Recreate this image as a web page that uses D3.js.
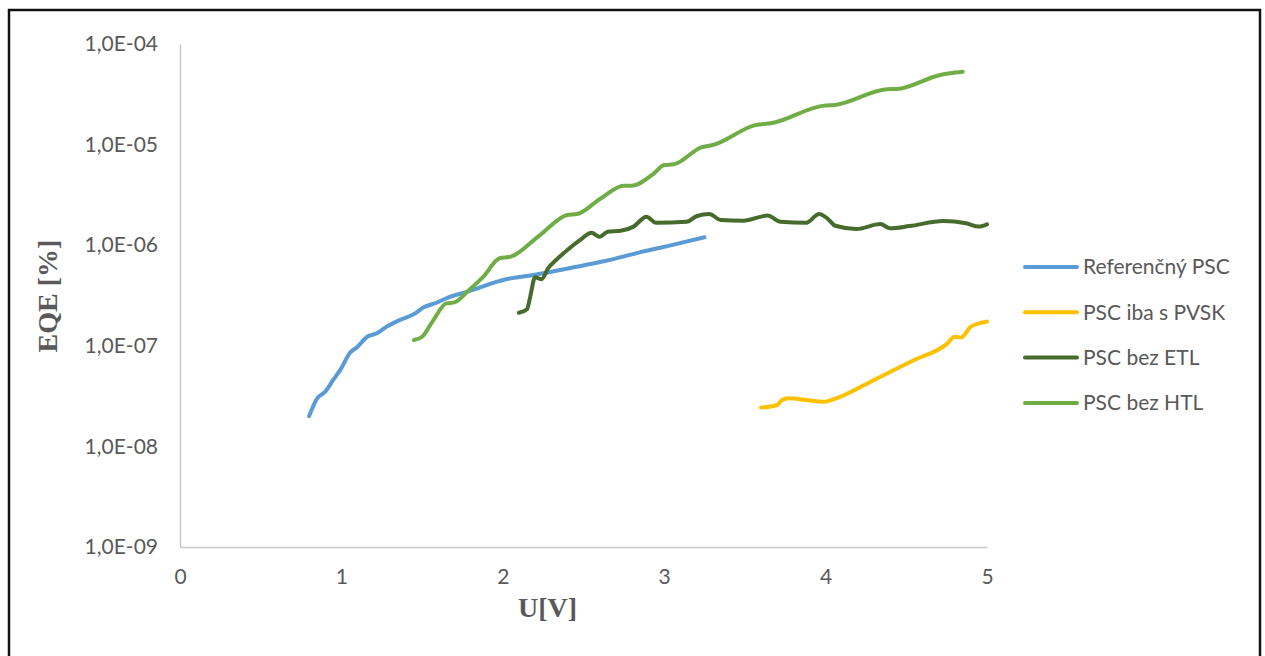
<!DOCTYPE html>
<html>
<head>
<meta charset="utf-8">
<script src="https://cdn.jsdelivr.net/npm/d3@7"></script>
<style>
  html, body { margin: 0; padding: 0; background: #ffffff; }
  svg { display: block; }
</style>
</head>
<body>
<svg id="chart" width="1265" height="656"></svg>
<script>
// Series names
const seriesNames = ["Referenčný PSC", "PSC iba s PVSK", "PSC bez ETL", "PSC bez HTL"];

// Referenčný PSC
const refU   = [0.80, 0.85, 0.90, 0.95, 1.00, 1.05, 1.10, 1.16, 1.22, 1.28, 1.36, 1.45, 1.51, 1.59, 1.65, 1.78, 2.02, 2.19, 2.44, 2.64, 2.89, 3.02, 3.25];
const refEQE = [2.0e-8, 3.0e-8, 3.5e-8, 4.6e-8, 6.0e-8, 8.4e-8, 9.8e-8, 1.23e-7, 1.33e-7, 1.55e-7, 1.80e-7, 2.07e-7, 2.41e-7, 2.68e-7, 2.97e-7, 3.45e-7, 4.58e-7, 5.06e-7, 6.03e-7, 7.0e-7, 8.8e-7, 9.8e-7, 1.2e-6];

// PSC iba s PVSK
const pvskU   = [3.60, 3.70, 3.73, 3.77, 3.88, 3.99, 4.05, 4.30, 4.54, 4.75, 4.80, 4.84, 4.90, 5.00];
const pvskEQE = [2.43e-8, 2.58e-8, 2.89e-8, 3.01e-8, 2.89e-8, 2.78e-8, 2.94e-8, 4.57e-8, 7.11e-8, 1.04e-7, 1.23e-7, 1.21e-7, 1.55e-7, 1.74e-7];

// PSC bez ETL
const etlU   = [2.10, 2.15, 2.17, 2.20, 2.24, 2.28, 2.33, 2.40, 2.48, 2.55, 2.60, 2.65, 2.73, 2.81, 2.89, 2.95, 3.14, 3.20, 3.28, 3.35, 3.49, 3.64, 3.72, 3.88, 3.96, 4.01, 4.06, 4.19, 4.34, 4.40, 4.52, 4.73, 4.87, 4.95, 5.00];
const etlEQE = [2.13e-7, 2.31e-7, 3.08e-7, 4.80e-7, 4.58e-7, 5.89e-7, 7.13e-7, 8.96e-7, 1.13e-6, 1.33e-6, 1.21e-6, 1.36e-6, 1.39e-6, 1.53e-6, 1.92e-6, 1.67e-6, 1.71e-6, 1.94e-6, 2.04e-6, 1.78e-6, 1.75e-6, 1.97e-6, 1.71e-6, 1.67e-6, 2.04e-6, 1.85e-6, 1.56e-6, 1.45e-6, 1.62e-6, 1.47e-6, 1.55e-6, 1.74e-6, 1.65e-6, 1.53e-6, 1.61e-6];

// PSC bez HTL
const htlU   = [1.45, 1.50, 1.57, 1.65, 1.70, 1.78, 1.88, 1.98, 2.05, 2.23, 2.40, 2.46, 2.60, 2.75, 2.80, 2.93, 3.00, 3.06, 3.23, 3.30, 3.57, 3.66, 3.99, 4.06, 4.38, 4.44, 4.71, 4.77, 4.85];
const htlEQE = [1.14e-7, 1.23e-7, 1.80e-7, 2.64e-7, 2.70e-7, 3.45e-7, 4.86e-7, 7.41e-7, 7.69e-7, 1.26e-6, 2.0e-6, 2.04e-6, 2.86e-6, 3.90e-6, 3.90e-6, 5.07e-6, 6.27e-6, 6.37e-6, 9.4e-6, 9.9e-6, 1.57e-5, 1.63e-5, 2.44e-5, 2.48e-5, 3.55e-5, 3.57e-5, 4.92e-5, 5.12e-5, 5.31e-5];

// Axis ticks and labels
const xTicks = [0, 1, 2, 3, 4, 5];
const yTicks = [1e-9, 1e-8, 1e-7, 1e-6, 1e-5, 1e-4];
const yTickLabels = ["1,0E-09", "1,0E-08", "1,0E-07", "1,0E-06", "1,0E-05", "1,0E-04"];
const xTitle = "U[V]";
const yTitle = "EQE [%]";

const colors = ["#5b9bd5", "#ffc000", "#466b2c", "#70ad47"];

const series = [
  { name: seriesNames[0], u: refU,  v: refEQE,  color: colors[0] },
  { name: seriesNames[1], u: pvskU, v: pvskEQE, color: colors[1] },
  { name: seriesNames[2], u: etlU,  v: etlEQE,  color: colors[2] },
  { name: seriesNames[3], u: htlU,  v: htlEQE,  color: colors[3] }
];

const svg = d3.select("#chart");
const tickFont = "Lato, 'Open Sans', sans-serif";
const titleFont = "'Liberation Serif', 'Times New Roman', serif";
const textColor = "#595959";

// Outer frame
svg.append("rect")
  .attr("x", 9).attr("y", 10)
  .attr("width", 1251).attr("height", 700)
  .attr("fill", "none")
  .attr("stroke", "#111")
  .attr("stroke-width", 2.5);

const plot = { left: 180, right: 987, top: 44, bottom: 547 };

const x = d3.scaleLinear().domain([0, 5]).range([plot.left, plot.right]);
const y = d3.scaleLog().domain([1e-9, 1e-4]).range([plot.bottom, plot.top]);

// Y axis
const yAxis = d3.axisLeft(y)
  .tickValues(yTicks)
  .tickSize(0)
  .tickPadding(22)
  .tickFormat((d, i) => yTickLabels[i]);
const gy = svg.append("g").attr("transform", `translate(${plot.left},0)`).call(yAxis);
gy.select(".domain").attr("stroke", "#c9c9c9").attr("stroke-width", 1.5);
gy.selectAll("text")
  .attr("font-family", tickFont)
  .attr("font-size", 21)
  .attr("fill", textColor);

// X axis
const xAxis = d3.axisBottom(x)
  .tickValues(xTicks)
  .tickSize(0)
  .tickPadding(22)
  .tickFormat(d3.format("d"));
const gx = svg.append("g").attr("transform", `translate(0,${plot.bottom})`).call(xAxis);
gx.select(".domain").attr("stroke", "#c9c9c9").attr("stroke-width", 1.5);
gx.selectAll("text")
  .attr("font-family", tickFont)
  .attr("font-size", 21)
  .attr("fill", textColor);

// Axis titles
svg.append("text")
  .attr("x", (plot.left + plot.right) / 2 - 36)
  .attr("y", 617)
  .attr("text-anchor", "middle")
  .attr("font-family", titleFont)
  .attr("font-weight", "bold")
  .attr("font-size", 28)
  .attr("fill", textColor)
  .text(xTitle);

svg.append("text")
  .attr("transform", `translate(57,296) rotate(-90)`)
  .attr("text-anchor", "middle")
  .attr("font-family", titleFont)
  .attr("font-weight", "bold")
  .attr("font-size", 28)
  .attr("fill", textColor)
  .text(yTitle);

// Lines
const line = d3.line()
  .x(d => x(d[0]))
  .y(d => y(d[1]))
  .curve(d3.curveMonotoneX);

svg.append("g").selectAll("path")
  .data(series)
  .join("path")
  .attr("d", s => line(s.u.map((u, i) => [u, s.v[i]])))
  .attr("fill", "none")
  .attr("stroke", s => s.color)
  .attr("stroke-width", 4)
  .attr("stroke-linecap", "round")
  .attr("stroke-linejoin", "round");

// Legend
const legend = svg.append("g").attr("transform", "translate(1025,267)");
const items = legend.selectAll("g")
  .data(series)
  .join("g")
  .attr("transform", (d, i) => `translate(0,${i * 45.3})`);
items.append("line")
  .attr("x1", 0).attr("x2", 52)
  .attr("y1", 0).attr("y2", 0)
  .attr("stroke", d => d.color)
  .attr("stroke-width", 4)
  .attr("stroke-linecap", "round");
items.append("text")
  .attr("x", 58)
  .attr("y", 0)
  .attr("dy", "0.35em")
  .attr("font-family", tickFont)
  .attr("font-size", 21)
  .attr("fill", textColor)
  .text(d => d.name);
</script>
</body>
</html>
